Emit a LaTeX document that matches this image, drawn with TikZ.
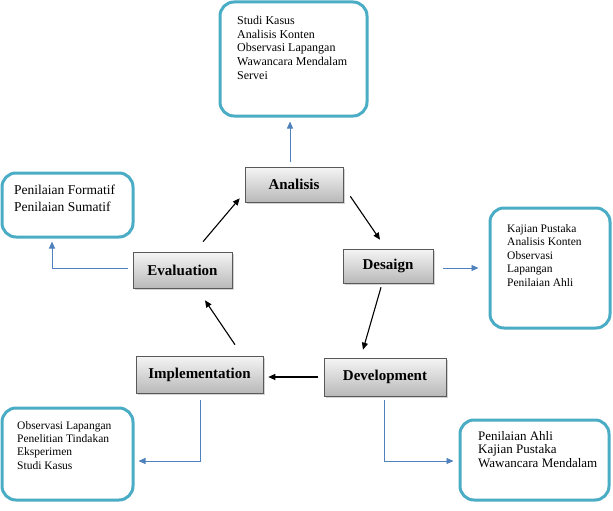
\documentclass[tikz,border=0pt]{standalone}
\usepackage{fontspec}
\setmainfont{Liberation Serif}
\usetikzlibrary{shadows,arrows.meta,calc}
\definecolor{tealb}{RGB}{75,172,198}
\definecolor{bluea}{RGB}{79,129,189}
\tikzset{
  infobox/.style={draw=tealb,line width=3pt,rounded corners=14pt,fill=white,inner sep=0pt},
  infotext/.style={anchor=north west,align=left,inner sep=0pt},
  phase/.style={draw=gray!70!black,line width=0.6pt,top color=gray!8,bottom color=gray!55,
     font=\fontsize{15}{17}\selectfont\bfseries,inner sep=0pt,
     drop shadow={shadow xshift=1.5pt,shadow yshift=-1.5pt,opacity=0.35}},
  blk/.style={-{Triangle[length=7pt,width=6pt]},line width=1.1pt,black},
  blu/.style={-{Triangle[length=7pt,width=6pt]},line width=0.9pt,bluea},
}
\begin{document}
\begin{tikzpicture}[x=1pt,y=-1pt]
\useasboundingbox (0,0) rectangle (613,511);
% info boxes
\node[infobox,minimum width=147pt,minimum height=114pt] (topbox) at (293.5,59) {};
\node[infotext,font=\fontsize{12}{13.7}\selectfont] (toptxt) at (237,16) {Studi Kasus\\Analisis Konten\\Observasi Lapangan\\Wawancara Mendalam\\Servei};
\node[infobox,minimum width=131pt,minimum height=64pt] (leftbox) at (67.5,205) {};
\node[infotext,font=\fontsize{13.5}{16.5}\selectfont] (lefttxt) at (14,185) {Penilaian Formatif\\Penilaian Sumatif};
\node[infobox,minimum width=120pt,minimum height=120pt] (rightbox) at (550,268) {};
\node[infotext,font=\fontsize{11.5}{13.5}\selectfont] (righttxt) at (507,224) {Kajian Pustaka\\Analisis Konten\\Observasi\\Lapangan\\Penilaian Ahli};
\node[infobox,minimum width=131pt,minimum height=92pt] (blbox) at (67.5,454) {};
\node[infotext,font=\fontsize{11.5}{13.3}\selectfont] (bltxt) at (17,421) {Observasi Lapangan\\Penelitian Tindakan\\Eksperimen\\Studi Kasus};
\node[infobox,minimum width=149pt,minimum height=80pt] (brbox) at (534.5,460) {};
\node[infotext,font=\fontsize{13}{13.6}\selectfont] (brtxt) at (478,431) {Penilaian Ahli\\Kajian Pustaka\\Wawancara Mendalam};
% phase boxes
\node[phase,minimum width=98pt,minimum height=35pt] (anal) at (294,184.5) {Analisis};
\node[phase,minimum width=99pt,minimum height=36pt] (eval) at (182.5,270) {Evaluation};
\node[phase,minimum width=90pt,minimum height=34pt] (desa) at (388,266) {Desaign};
\node[phase,minimum width=127pt,minimum height=37pt] (impl) at (199.5,374.5) {Implementation};
\node[phase,minimum width=122pt,minimum height=38pt] (devl) at (385,377) {Development};
% black cycle arrows
\draw[blk] ([shift={(20.5,-10)}]eval.north) -- ([shift={(-5,-4)}]anal.south west);
\draw[blk] ([shift={(7,-6)}]anal.south east) -- ([shift={(-8,-9)}]desa.north);
\draw[blk] ([shift={(-7,4)}]desa.south) -- ([shift={(-22,-8)}]devl.north);
\draw[blk] ([shift={(-6,0)}]devl.west) -- ([shift={(5,2.5)}]impl.east);
\draw[blk] ([shift={(35.5,-11)}]impl.north) -- ([shift={(22.5,12)}]eval.south);
% blue arrows
\draw[blu] ([shift={(-4,-5)}]anal.north) -- ([shift={(-3.5,4)}]topbox.south);
\draw[blu] ([shift={(-5,-2)}]eval.west) -| ([shift={(-15.5,3)}]leftbox.south);
\draw[blu] ([shift={(10,2)}]desa.east) -- ([shift={(-10,0)}]rightbox.west);
\draw[blu] ([shift={(0.5,7)}]impl.south) |- ([shift={(4,7)}]blbox.east);
\draw[blu] ([shift={(-1,4)}]devl.south) |- ([shift={(-5,1)}]brbox.west);
\end{tikzpicture}
\end{document}
